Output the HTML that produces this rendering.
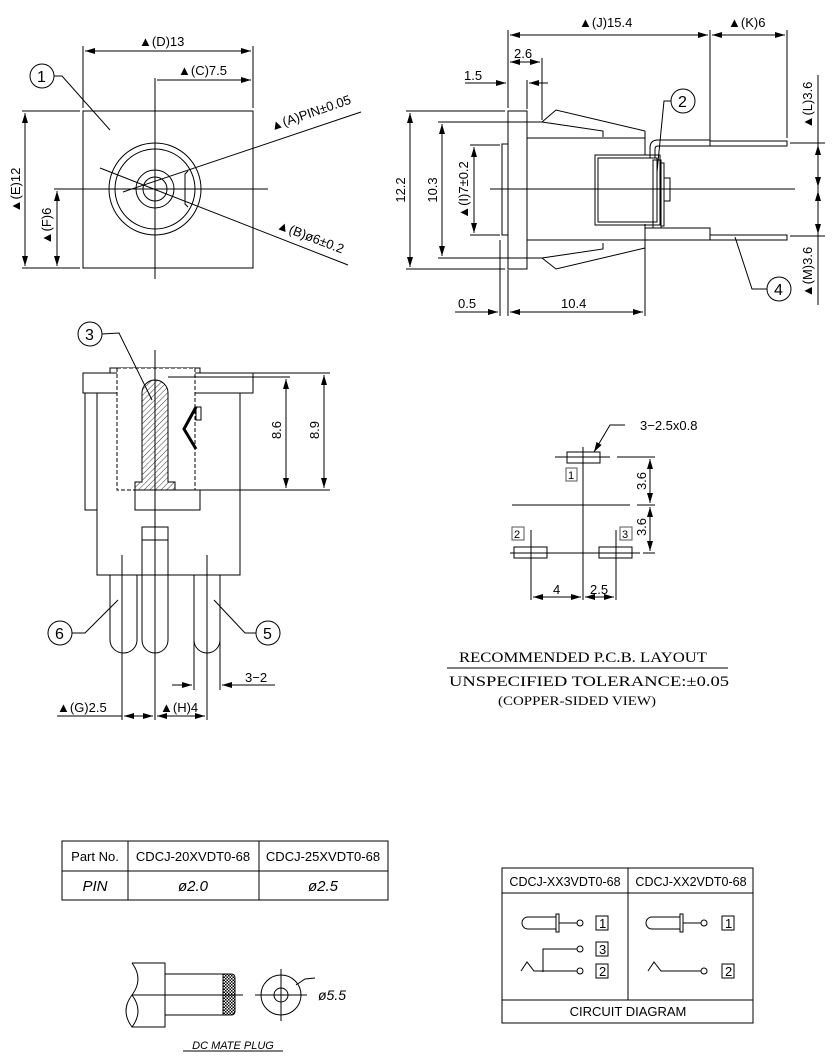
<!DOCTYPE html>
<html><head><meta charset="utf-8"><style>
html,body{margin:0;padding:0;background:#fff;}
svg{display:block;}
text{font-family:"Liberation Sans",sans-serif;fill:#000;}
.s{font-family:"Liberation Serif",serif;}
</style></head><body>
<svg width="835" height="1064" viewBox="0 0 835 1064" xmlns="http://www.w3.org/2000/svg">
<defs>
<marker id="a" viewBox="0 0 10 6" refX="10" refY="3" markerWidth="10" markerHeight="6" orient="auto-start-reverse" markerUnits="userSpaceOnUse"><path d="M0,0 L10,3 L0,6 z" fill="#000"/></marker>
<pattern id="h" width="4" height="4" patternUnits="userSpaceOnUse" patternTransform="rotate(45)"><line x1="0" y1="0" x2="0" y2="4" stroke="#000" stroke-width="0.8"/></pattern>
<pattern id="k" width="3" height="3" patternUnits="userSpaceOnUse"><rect width="3" height="3" fill="#fff"/><rect width="1.5" height="1.5" fill="#000"/><rect x="1.5" y="1.5" width="1.5" height="1.5" fill="#000"/></pattern>
</defs>
<g stroke="#000" stroke-width="1" fill="none">
<rect x="83" y="111" width="170" height="157"/>
<line x1="55" y1="189" x2="268" y2="189"/>
<line x1="155" y1="78" x2="155" y2="279"/>
<circle cx="155" cy="189" r="46"/><circle cx="155" cy="189" r="40"/>
<circle cx="155" cy="189" r="19"/><circle cx="155" cy="189" r="12"/>
<path d="M188,171 l-3,3 v30 l3,3"/>
<line x1="83" y1="46" x2="83" y2="108"/><line x1="253" y1="46" x2="253" y2="108"/>
<line x1="85" y1="51" x2="251" y2="51" marker-start="url(#a)" marker-end="url(#a)"/>
<line x1="157" y1="80" x2="251" y2="80" marker-end="url(#a)"/>
<line x1="22" y1="111" x2="80" y2="111"/><line x1="22" y1="268" x2="80" y2="268"/>
<line x1="25" y1="113" x2="25" y2="266" marker-start="url(#a)" marker-end="url(#a)"/>
<line x1="54" y1="189" x2="68" y2="189"/>
<line x1="57" y1="191" x2="57" y2="266" marker-start="url(#a)" marker-end="url(#a)"/>
<line x1="123" y1="192" x2="361" y2="112"/>
<line x1="100" y1="168" x2="348" y2="265"/>
<circle cx="42" cy="76" r="12"/>
<polyline points="54,76 62,76 110,130"/>
<rect x="508" y="111" width="19" height="158"/>
<rect x="502" y="144" width="6" height="91"/>
<line x1="527" y1="138" x2="645" y2="138"/><line x1="527" y1="240" x2="645" y2="240"/>
<line x1="645" y1="131" x2="645" y2="155"/><line x1="645" y1="224" x2="645" y2="248"/>
<polyline points="527,122 542,122 556,110 645,131"/>
<polyline points="542,122 603,131 603,137"/>
<polyline points="527,258 542,258 556,269 645,248"/>
<polyline points="542,258 603,249 603,243"/>
<rect x="595" y="155" width="65" height="70"/>
<rect x="598" y="158" width="59" height="64"/>
<rect x="653" y="160" width="8" height="68"/>
<rect x="661" y="163" width="3" height="63"/>
<rect x="664" y="178" width="6" height="23"/>
<path d="M650,158 v-10 q0,-8 8,-8 h52 v6 h-52 q-3,0 -3,3 v9"/>
<rect x="710" y="141" width="77" height="5"/>
<rect x="645" y="228" width="65" height="12"/>
<rect x="710" y="235" width="77" height="5"/>
<line x1="490" y1="189" x2="795" y2="189"/>
<line x1="508" y1="30" x2="508" y2="108"/><line x1="710" y1="30" x2="710" y2="140"/><line x1="787" y1="30" x2="787" y2="138"/>
<line x1="510" y1="35" x2="708" y2="35" marker-start="url(#a)" marker-end="url(#a)"/>
<line x1="712" y1="35" x2="785" y2="35" marker-start="url(#a)" marker-end="url(#a)"/>
<line x1="542" y1="58" x2="542" y2="120"/>
<line x1="510" y1="62" x2="540" y2="62" marker-start="url(#a)" marker-end="url(#a)"/>
<line x1="527" y1="80" x2="527" y2="109"/>
<line x1="465" y1="83" x2="506" y2="83" marker-end="url(#a)"/>
<line x1="548" y1="83" x2="529" y2="83" marker-end="url(#a)"/>
<line x1="406" y1="111" x2="505" y2="111"/><line x1="406" y1="269" x2="505" y2="269"/>
<line x1="410" y1="113" x2="410" y2="267" marker-start="url(#a)" marker-end="url(#a)"/>
<line x1="438" y1="122" x2="540" y2="122"/><line x1="438" y1="258" x2="540" y2="258"/>
<line x1="442" y1="124" x2="442" y2="256" marker-start="url(#a)" marker-end="url(#a)"/>
<line x1="470" y1="145" x2="500" y2="145"/><line x1="470" y1="235" x2="500" y2="235"/>
<line x1="474" y1="147" x2="474" y2="233" marker-start="url(#a)" marker-end="url(#a)"/>
<line x1="500" y1="240" x2="500" y2="316"/><line x1="508" y1="270" x2="508" y2="316"/><line x1="645" y1="245" x2="645" y2="316"/>
<line x1="455" y1="312" x2="498" y2="312" marker-end="url(#a)"/>
<line x1="510" y1="312" x2="643" y2="312" marker-start="url(#a)" marker-end="url(#a)"/>
<line x1="790" y1="143" x2="825" y2="143"/><line x1="790" y1="236" x2="825" y2="236"/>
<line x1="818" y1="75" x2="818" y2="305"/>
<line x1="818" y1="145" x2="818" y2="187" marker-start="url(#a)" marker-end="url(#a)"/>
<line x1="818" y1="191" x2="818" y2="234" marker-start="url(#a)" marker-end="url(#a)"/>
<circle cx="683" cy="101" r="12"/>
<polyline points="671,101 664,101 657,172"/>
<circle cx="779" cy="289" r="12"/>
<polyline points="767,289 752,289 735,237"/>
<rect x="110" y="368" width="90" height="5"/>
<rect x="83" y="373" width="170" height="20"/>
<rect x="85" y="393" width="12" height="117"/>
<rect x="97" y="393" width="143" height="182"/>
<rect x="117" y="368" width="78" height="122" stroke-dasharray="4,2" fill="#fff"/>
<path d="M142,482 V393 a13,13 0 0 1 26,0 V482 h7 v8 h-40 v-8 z" fill="url(#h)"/>
<rect x="135" y="490" width="65" height="20" fill="#fff"/>
<path d="M196,407 l-12,22 l12,20" stroke-width="3"/>
<rect x="196" y="407" width="5" height="13"/>
<path d="M110,575 V640 a13.5,13 0 0 0 27,0 V575"/>
<path d="M142,527 V640 a13,13 0 0 0 26,0 V527 z"/>
<line x1="142" y1="540" x2="168" y2="540"/>
<path d="M194,575 V640 a13,13 0 0 0 26,0 V575"/>
<line x1="155" y1="350" x2="155" y2="720"/>
<line x1="122" y1="555" x2="122" y2="720"/><line x1="207" y1="555" x2="207" y2="720"/>
<line x1="194" y1="640" x2="194" y2="690"/><line x1="220" y1="640" x2="220" y2="690"/>
<line x1="253" y1="373" x2="330" y2="373"/><line x1="168" y1="377" x2="290" y2="377"/><line x1="195" y1="490" x2="330" y2="490"/>
<line x1="286" y1="379" x2="286" y2="488" marker-start="url(#a)" marker-end="url(#a)"/>
<line x1="324" y1="375" x2="324" y2="488" marker-start="url(#a)" marker-end="url(#a)"/>
<circle cx="90" cy="334" r="12"/>
<polyline points="102,334 119,333 152,400"/>
<circle cx="60" cy="633" r="12"/><polyline points="72,633 85,633 118,600"/>
<circle cx="268" cy="633" r="12"/><polyline points="256,633 245,633 214,600"/>
<line x1="172" y1="685" x2="192" y2="685" marker-end="url(#a)"/>
<line x1="275" y1="685" x2="222" y2="685" marker-end="url(#a)"/>
<line x1="57" y1="716" x2="122" y2="716"/>
<line x1="124" y1="716" x2="153" y2="716" marker-start="url(#a)" marker-end="url(#a)"/>
<line x1="157" y1="716" x2="205" y2="716" marker-start="url(#a)" marker-end="url(#a)"/>
<rect x="567" y="452" width="33" height="11"/>
<rect x="566" y="468" width="11" height="13" stroke="#555"/>
<line x1="583" y1="447" x2="583" y2="600"/>
<line x1="555" y1="457" x2="610" y2="457"/><line x1="617" y1="457" x2="655" y2="457"/>
<line x1="512" y1="505" x2="630" y2="505"/><line x1="637" y1="505" x2="655" y2="505"/>
<rect x="514" y="547" width="33" height="11"/><rect x="599" y="547" width="33" height="11"/>
<line x1="510" y1="553" x2="640" y2="553"/><line x1="643" y1="553" x2="655" y2="553"/>
<line x1="531" y1="530" x2="531" y2="600"/><line x1="616" y1="530" x2="616" y2="600"/>
<rect x="512" y="527" width="12" height="13" stroke="#555"/><rect x="620" y="527" width="12" height="13" stroke="#555"/>
<line x1="650" y1="459" x2="650" y2="503" marker-start="url(#a)" marker-end="url(#a)"/>
<line x1="650" y1="507" x2="650" y2="551" marker-start="url(#a)" marker-end="url(#a)"/>
<line x1="533" y1="597" x2="581" y2="597" marker-start="url(#a)" marker-end="url(#a)"/>
<line x1="585" y1="597" x2="614" y2="597" marker-start="url(#a)" marker-end="url(#a)"/>
<polyline points="625,425 610,425 594,452" marker-end="url(#a)"/>
<line x1="447" y1="668" x2="728" y2="668"/>
<rect x="62" y="841" width="326" height="59"/>
<line x1="62" y1="871" x2="388" y2="871"/>
<line x1="128" y1="841" x2="128" y2="900"/><line x1="259" y1="841" x2="259" y2="900"/>
<path d="M132,963 H165 V1027 H132 q-12,-16 0,-32 q12,-16 0,-32"/>
<path d="M132,995 q12,16 0,32"/>
<rect x="165" y="974" width="58" height="41"/>
<path d="M223,974 h8 q4,0 4,4 v33 q0,4 -4,4 h-8 z" fill="url(#k)"/>
<line x1="132" y1="995" x2="243" y2="995"/>
<circle cx="281" cy="995" r="20"/><circle cx="281" cy="995" r="7"/>
<line x1="255" y1="995" x2="307" y2="995"/><line x1="281" y1="969" x2="281" y2="1021"/>
<polyline points="296,985 305,979 315,978"/>
<line x1="183" y1="1051" x2="283" y2="1051"/>
<rect x="502" y="868" width="251" height="155"/>
<line x1="502" y1="893" x2="753" y2="893"/>
<line x1="628" y1="868" x2="628" y2="1000"/>
<line x1="502" y1="1000" x2="753" y2="1000"/>
<path d="M556,917 h-28 a6,6 0 0 0 0,12 h28"/>
<rect x="556" y="914" width="3" height="18"/>
<line x1="559" y1="923" x2="577" y2="923"/><circle cx="580" cy="923" r="3"/>
<rect x="596" y="916" width="12" height="14"/>
<rect x="596" y="942" width="12" height="14"/>
<rect x="596" y="964" width="12" height="14"/>
<polyline points="580,949 543,949 543,972"/><circle cx="580" cy="949" r="3" fill="#fff"/>
<polyline points="521,971 527,962 534,971 577,971"/><circle cx="580" cy="971" r="3"/>
<path d="M680,917 h-28 a6,6 0 0 0 0,12 h28"/>
<rect x="680" y="914" width="3" height="18"/>
<line x1="683" y1="923" x2="701" y2="923"/><circle cx="704" cy="923" r="3"/>
<rect x="722" y="916" width="12" height="14"/>
<rect x="722" y="964" width="12" height="14"/>
<polyline points="648,971 654,962 661,971 701,971"/><circle cx="704" cy="971" r="3"/>
</g>
<g font-size="13">
<text x="139" y="46">▲(D)13</text>
<text x="178" y="75">▲(C)7.5</text>
<text x="20" y="190" transform="rotate(-90 20 190)" text-anchor="middle">▲(E)12</text>
<text x="51" y="226" transform="rotate(-90 51 226)" text-anchor="middle">▲(F)6</text>
<text x="312" y="117" transform="rotate(-19 312 117)" text-anchor="middle">▲(A)PIN±0.05</text>
<text x="309" y="241" transform="rotate(21 309 241)" text-anchor="middle">▲(B)ø6±0.2</text>
<text x="37" y="82" font-size="16">1</text>
<text x="579" y="27">▲(J)15.4</text>
<text x="728" y="27">▲(K)6</text>
<text x="514" y="58">2.6</text>
<text x="464" y="80">1.5</text>
<text x="405" y="190" transform="rotate(-90 405 190)" text-anchor="middle">12.2</text>
<text x="437" y="190" transform="rotate(-90 437 190)" text-anchor="middle">10.3</text>
<text x="468" y="190" transform="rotate(-90 468 190)" text-anchor="middle">▲(I)7±0.2</text>
<text x="458" y="308">0.5</text>
<text x="561" y="308">10.4</text>
<text x="812" y="105" transform="rotate(-90 812 105)" text-anchor="middle">▲(L)3.6</text>
<text x="812" y="272" transform="rotate(-90 812 272)" text-anchor="middle">▲(M)3.6</text>
<text x="678" y="107" font-size="16">2</text>
<text x="774" y="295" font-size="16">4</text>
<text x="85" y="340" font-size="16">3</text>
<text x="55" y="639" font-size="16">6</text>
<text x="263" y="639" font-size="16">5</text>
<text x="281" y="430" transform="rotate(-90 281 430)" text-anchor="middle">8.6</text>
<text x="319" y="430" transform="rotate(-90 319 430)" text-anchor="middle">8.9</text>
<text x="245" y="682">3−2</text>
<text x="57" y="712">▲(G)2.5</text>
<text x="160" y="712">▲(H)4</text>
<text x="640" y="430">3−2.5x0.8</text>
<text x="568" y="479" font-size="11" fill="#555">1</text>
<text x="514" y="538" font-size="11" fill="#555">2</text>
<text x="622" y="538" font-size="11" fill="#555">3</text>
<text x="646" y="481" transform="rotate(-90 646 481)" text-anchor="middle">3.6</text>
<text x="646" y="527" transform="rotate(-90 646 527)" text-anchor="middle">3.6</text>
<text x="553" y="594">4</text>
<text x="590" y="594">2.5</text>
</g>
<g class="s" font-size="15">
<text x="459" y="662" class="s" textLength="248" lengthAdjust="spacingAndGlyphs">RECOMMENDED P.C.B. LAYOUT</text>
<text x="449" y="686" class="s" textLength="280" lengthAdjust="spacingAndGlyphs">UNSPECIFIED TOLERANCE:±0.05</text>
<text x="498" y="705" class="s" font-size="13" textLength="158" lengthAdjust="spacingAndGlyphs">(COPPER-SIDED VIEW)</text>
</g>
<g font-size="13">
<text x="95" y="861" text-anchor="middle">Part No.</text>
<text x="193" y="861" text-anchor="middle">CDCJ-20XVDT0-68</text>
<text x="323" y="861" text-anchor="middle">CDCJ-25XVDT0-68</text>
<text x="95" y="891" text-anchor="middle" font-size="15" font-style="italic" fill="#444">PIN</text>
<text x="193" y="891" text-anchor="middle" font-size="15" font-style="italic" fill="#444">ø2.0</text>
<text x="323" y="891" text-anchor="middle" font-size="15" font-style="italic" fill="#444">ø2.5</text>
<text x="318" y="1000" font-size="14" font-style="italic" fill="#444">ø5.5</text>
<text x="233" y="1049" text-anchor="middle" font-size="11" font-style="italic">DC MATE PLUG</text>
<text x="565" y="886" text-anchor="middle" font-size="12.5">CDCJ-XX3VDT0-68</text>
<text x="691" y="886" text-anchor="middle" font-size="12.5">CDCJ-XX2VDT0-68</text>
<text x="628" y="1016" text-anchor="middle">CIRCUIT DIAGRAM</text>
<text x="599" y="928" fill="#555">1</text>
<text x="599" y="954" fill="#555">3</text>
<text x="599" y="976" fill="#555">2</text>
<text x="725" y="928" fill="#555">1</text>
<text x="725" y="976" fill="#555">2</text>
</g>
</svg>
</body></html>
